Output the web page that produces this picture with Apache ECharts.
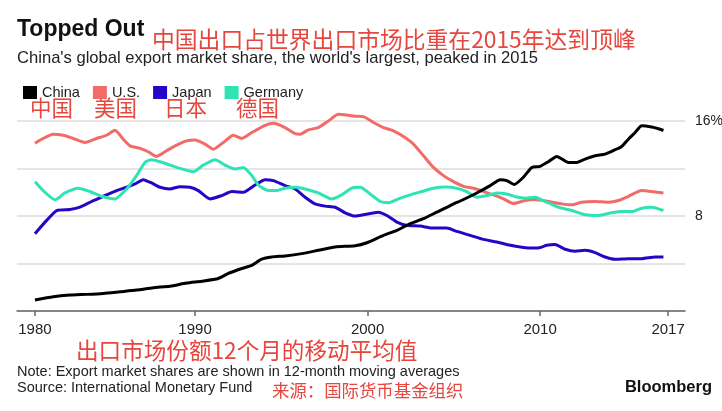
<!DOCTYPE html>
<html>
<head>
<meta charset="utf-8">
<script src="https://cdn.jsdelivr.net/npm/echarts@6/dist/echarts.min.js"></script>
<style>
html,body{margin:0;padding:0;background:#fff;}
#chart{width:722px;height:411px;}
</style>
</head>
<body>
<div id="chart"></div>
<script>
// ---- data: [year, share %] ----
const seriesNames = ['China', 'U.S.', 'Japan', 'Germany'];
const china = [
  [1980.72,0.92],[1981.78,1.20],[1982.75,1.34],[1983.72,1.40],[1984.68,1.48],[1985.65,1.62],
  [1986.61,1.76],[1987.58,1.96],[1988.55,2.09],[1989.51,2.35],[1990.39,2.51],[1991.35,2.74],
  [1991.93,3.16],[1992.71,3.58],[1993.29,3.85],[1993.86,4.36],[1994.44,4.55],[1995.22,4.64],
  [1996.18,4.83],[1997.15,5.11],[1998.12,5.39],[1999.28,5.50],[1999.96,5.75],[2000.92,6.37],
  [2001.70,6.79],[2002.47,7.35],[2003.24,7.77],[2004.01,8.32],[2004.79,8.88],[2005.56,9.39],
  [2006.33,9.94],[2007.11,10.56],[2007.69,11.06],[2008.07,10.98],[2008.50,10.65],[2009.03,11.26],
  [2009.52,12.09],[2010.00,12.18],[2010.48,12.57],[2010.97,13.02],[2011.64,12.51],[2012.13,12.51],
  [2012.61,12.79],[2013.19,13.07],[2013.77,13.21],[2014.35,13.58],[2014.73,13.85],[2015.12,14.47],
  [2015.51,15.03],[2015.89,15.60],[2016.47,15.50],[2016.86,15.35],[2017.15,15.20]
];
const us = [
  [1980.72,14.13],[1981.20,14.53],[1981.78,14.89],[1982.36,14.80],[1982.94,14.53],[1983.62,14.19],
  [1984.29,14.53],[1984.87,14.80],[1985.36,15.22],[1985.84,14.47],[1986.23,13.91],[1986.81,13.69],
  [1987.29,13.41],[1987.77,13.02],[1988.35,13.49],[1988.93,13.97],[1989.51,14.33],[1990.00,14.39],
  [1990.58,14.05],[1991.06,13.63],[1991.64,14.19],[1992.22,14.80],[1992.71,14.53],[1993.29,15.03],
  [1994.06,15.64],[1994.54,15.81],[1995.22,15.45],[1995.80,14.94],[1996.09,14.89],[1996.57,15.25],
  [1997.15,15.45],[1997.73,16.00],[1998.31,16.56],[1998.89,16.48],[1999.30,16.40],[1999.76,16.37],
  [2000.34,15.87],[2000.92,15.45],[2001.50,15.17],[2002.08,14.69],[2002.66,14.05],[2003.24,13.07],
  [2003.82,12.09],[2004.40,11.40],[2004.98,10.89],[2005.56,10.50],[2006.14,10.34],[2006.72,10.06],
  [2007.30,9.78],[2007.88,9.44],[2008.46,9.05],[2009.13,9.30],[2009.71,9.39],[2010.48,9.22],
  [2011.26,9.02],[2011.84,8.94],[2012.41,9.16],[2013.19,9.22],[2013.96,9.16],[2014.54,9.30],
  [2015.12,9.66],[2015.89,10.14],[2016.47,10.06],[2017.15,9.94]
];
const japan = [
  [1980.72,6.51],[1981.40,7.63],[1981.98,8.46],[1982.75,8.55],[1983.33,8.74],[1984.00,9.22],
  [1984.68,9.66],[1985.45,10.14],[1986.03,10.42],[1986.52,10.70],[1987.00,11.06],[1987.48,10.78],
  [1987.97,10.42],[1988.55,10.28],[1989.13,10.47],[1989.71,10.42],[1990.19,10.14],[1990.87,9.44],
  [1991.55,9.72],[1992.13,10.06],[1992.80,10.00],[1993.48,10.61],[1994.06,11.06],[1994.54,10.98],
  [1995.22,10.56],[1995.80,10.28],[1996.38,9.58],[1996.96,9.02],[1997.54,8.83],[1998.12,8.74],
  [1998.70,8.27],[1999.28,8.00],[1999.76,8.10],[2000.63,8.32],[2001.12,8.04],[2001.70,7.49],
  [2002.28,7.21],[2003.05,7.15],[2003.82,6.98],[2004.59,6.98],[2005.17,6.70],[2005.95,6.37],
  [2006.72,6.03],[2007.49,5.81],[2008.27,5.53],[2008.85,5.39],[2009.32,5.31],[2009.90,5.31],
  [2010.39,5.53],[2010.87,5.59],[2011.45,5.20],[2012.03,5.03],[2012.61,5.11],[2013.19,4.92],
  [2013.77,4.55],[2014.35,4.36],[2015.12,4.41],[2015.89,4.41],[2016.67,4.55],[2017.15,4.55]
];
const germany = [
  [1980.72,10.89],[1981.30,10.00],[1981.88,9.36],[1982.46,9.94],[1983.23,10.34],[1983.91,10.06],
  [1984.58,9.66],[1985.36,9.44],[1986.03,10.28],[1986.61,11.40],[1987.10,12.51],[1987.48,12.74],
  [1987.97,12.57],[1988.55,12.29],[1989.13,12.01],[1989.90,11.73],[1990.48,12.29],[1991.16,12.74],
  [1991.74,12.29],[1992.32,11.96],[1992.80,12.09],[1993.29,11.40],[1993.67,10.61],[1994.25,10.14],
  [1994.73,10.14],[1995.22,10.34],[1995.80,10.42],[1996.38,10.28],[1997.15,9.94],[1997.92,9.44],
  [1998.50,9.78],[1999.08,10.34],[1999.57,10.42],[2000.15,9.86],[2000.73,9.22],[2001.21,9.11],
  [2001.79,9.44],[2002.47,9.78],[2003.14,10.06],[2003.82,10.34],[2004.50,10.45],[2005.17,10.34],
  [2005.75,10.06],[2006.33,9.58],[2006.91,9.72],[2007.49,9.94],[2008.07,9.86],[2008.65,9.60],
  [2009.13,9.50],[2009.71,9.58],[2010.29,9.22],[2011.06,8.74],[2011.84,8.46],[2012.61,8.10],
  [2013.38,8.04],[2014.15,8.27],[2014.73,8.38],[2015.31,8.38],[2015.89,8.66],[2016.47,8.74],
  [2017.15,8.46]
];
const xTickValues = [1980.72, 1990, 2000, 2010, 2017.42];
const xTickLabels = ['1980', '1990', '2000', '2010', '2017'];
const yTickLabels = {16: '16%', 8: '8'};

const colors = ['#000000', '#f26b66', '#2406c6', '#2ee3b4'];
const zhRed = '#e5463d';
const latin = '"Liberation Sans", Arial, sans-serif';
const cjk = '"Noto Sans CJK SC", sans-serif';

const chart = echarts.init(document.getElementById('chart'), null, {renderer: 'canvas'});
const dataSets = [china, us, japan, germany];

function txt(text, x, y, size, color, opts) {
  opts = opts || {};
  return {
    type: 'text', x: x, y: y, silent: true,
    style: {
      text: text, fill: color,
      font: (opts.bold ? 'bold ' : '') + size + 'px ' + (opts.family || latin),
      align: opts.align || 'left', verticalAlign: 'middle'
    }
  };
}

chart.setOption({
  animation: false,
  backgroundColor: '#fff',
  color: colors,
  grid: {left: 17, right: 37, top: 121, bottom: 100, containLabel: false, outerBoundsMode: 'none'},
  legend: {
    left: 18, top: 80, icon: 'rect', itemWidth: 14, itemHeight: 13, itemGap: 13,
    textStyle: {fontFamily: latin, fontSize: 14.5, color: '#222'},
    data: seriesNames
  },
  xAxis: {
    type: 'value', min: 1979.68, max: 2018.40,
    axisLine: {show: true, lineStyle: {color: '#666', width: 1.5}},
    axisTick: {show: true, customValues: xTickValues, length: 5, lineStyle: {color: '#666', width: 1.5}},
    axisLabel: {
      customValues: xTickValues, margin: 11, fontFamily: latin, fontSize: 15, color: '#222',
      formatter: function (v) {
        const i = xTickValues.findIndex(t => Math.abs(t - v) < 0.01);
        return i >= 0 ? xTickLabels[i] : '';
      }
    },
    splitLine: {show: false}
  },
  yAxis: {
    type: 'value', position: 'right', min: 0, max: 16, interval: 4,
    axisLine: {show: false}, axisTick: {show: false},
    axisLabel: {
      margin: 10, align: 'left', fontFamily: latin, fontSize: 14, color: '#222',
      formatter: function (v) { return yTickLabels[v] || ''; }
    },
    splitLine: {show: true, lineStyle: {color: '#dcdcdc', width: 1.5}}
  },
  series: seriesNames.map((name, i) => ({
    name: name, type: 'line', data: dataSets[i], showSymbol: false, clip: false,
    smooth: 0.2, lineStyle: {width: 3, color: colors[i]}, itemStyle: {color: colors[i]},
    z: [5, 2, 3, 4][i]
  })),
  graphic: [
    txt('Topped Out', 17, 30, 23, '#111', {bold: true}),
    txt('中国出口占世界出口市场比重在2015年达到顶峰', 152, 39, 22.8, zhRed, {family: cjk}),
    txt("China's global export market share, the world's largest, peaked in 2015", 17, 58, 16.6, '#222'),
    txt('中国', 30, 108, 21.5, zhRed, {family: cjk}),
    txt('美国', 94, 108, 21.5, zhRed, {family: cjk}),
    txt('日本', 164, 108, 21.5, zhRed, {family: cjk}),
    txt('德国', 236, 108, 21.5, zhRed, {family: cjk}),
    txt('出口市场份额12个月的移动平均值', 76, 350, 22.6, zhRed, {family: cjk}),
    txt('Note: Export market shares are shown in 12-month moving averages', 17, 372, 14.5, '#222'),
    txt('Source: International Monetary Fund', 17, 388, 14.5, '#222'),
    txt('来源：国际货币基金组织', 272, 390, 17.4, zhRed, {family: cjk}),
    txt('Bloomberg', 712, 387, 16.5, '#111', {bold: true, align: 'right'})
  ]
});
</script>
</body>
</html>
